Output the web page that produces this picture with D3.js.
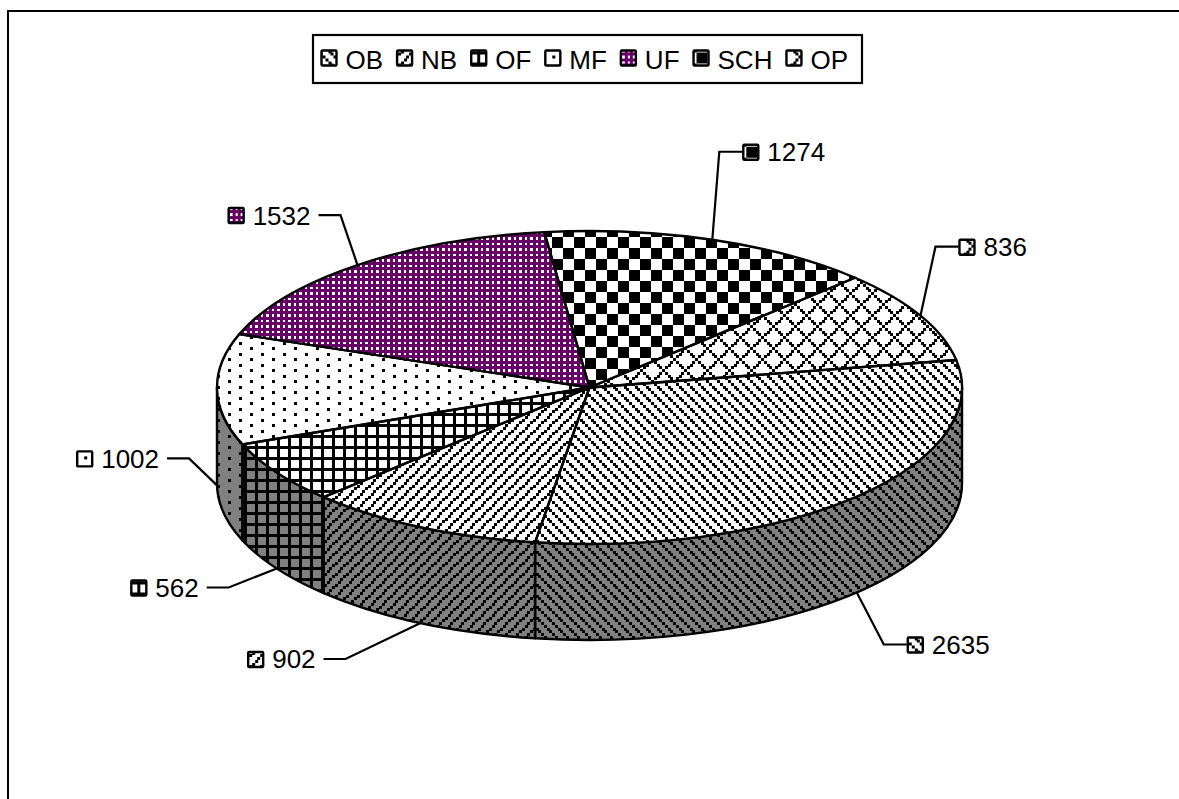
<!DOCTYPE html>
<html>
<head>
<meta charset="utf-8">
<script src="https://cdn.jsdelivr.net/npm/d3@7/dist/d3.min.js"></script>
<style>
  html, body { margin: 0; padding: 0; background: #fff; overflow: hidden; }
  svg { display: block; }
  text { font-family: "Liberation Sans", Arial, sans-serif; font-size: 26px; fill: #000; }
  pattern image { image-rendering: pixelated; }
</style>
</head>
<body>
<svg id="chart" width="1179" height="799"></svg>
<script>
// Shares by category, clockwise from the first slice.
const categories = ["OB", "NB", "OF", "MF", "UF", "SCH", "OP"];
const counts = [2635, 902, 562, 1002, 1532, 1274, 836];

// 8x8 hatch bitmaps, one per category; "#" is an ink cell.
const hatchBitmaps = {
  OB:  ["#...#...", ".#...#..", "..#...#.", "...#...#", "#...#...", ".#...#..", "..#...#.", "...#...#"],
  NB:  ["...#...#", "..#...#.", ".#...#..", "#...#...", "...#...#", "..#...#.", ".#...#..", "#...#..."],
  OF:  ["########", "#...#...", "#...#...", "#...#...", "########", "#...#...", "#...#...", "#...#..."],
  MF:  ["..#.....", "........", "......#.", "........", "..#.....", "........", "......#.", "........"],
  UF:  ["#.#.#.#.", "........", "#.#.#.#.", "........", "#.#.#.#.", "........", "#.#.#.#.", "........"],
  SCH: ["####....", "####....", "####....", "####....", "....####", "....####", "....####", "....####"],
  OP:  ["#.......", ".#.....#", "..#...#.", "...#.#..", "....#...", "...#.#..", "..#...#.", ".#.....#"]
};
// Hatch phase inside the small key squares, per category.
const keyPhase = { OB: [0, 0], NB: [0, 0], OF: [5, -4], MF: [0, 0], UF: [0, 0], SCH: [2, 8], OP: [0, 0] };
const PURPLE = "#660066";
const WALL_GREY = "#808080";

const svg = d3.select("#chart");
const defs = svg.append("defs");

// Each bitmap is painted to a small canvas tile; cells sit on a 2.75 px grid.
const TILE = 22;
const CELL = 3;
const cellEdge = d3.scaleLinear().domain([0, 8]).range([0, TILE]);
function tileUrl(cat) {
  const canvas = document.createElement("canvas");
  canvas.width = canvas.height = TILE;
  const ctx = canvas.getContext("2d");
  // The purple hatch inks white cells on its ground, in slightly finer blocks.
  ctx.fillStyle = cat === "UF" ? "#fff" : "#000";
  hatchBitmaps[cat].forEach((row, j) => {
    row.split("").forEach((c, i) => {
      if (c !== "#") return;
      const x0 = Math.round(cellEdge(i)), y0 = Math.round(cellEdge(j));
      const w = cat === "UF" ? Math.round(cellEdge(i + 1)) - x0 : CELL;
      const h = cat === "UF" ? Math.round(cellEdge(j + 1)) - y0 : CELL;
      ctx.fillRect(x0, y0, w, h);
    });
  });
  return canvas.toDataURL("image/png");
}
categories.forEach(cat => {
  defs.append("pattern")
    .attr("id", "hatch-" + cat)
    .attr("patternUnits", "userSpaceOnUse")
    .attr("width", TILE).attr("height", TILE)
    .attr("patternTransform", "translate(2,17)")
    .append("image")
    .attr("href", tileUrl(cat))
    .attr("width", TILE).attr("height", TILE);
});

// Outer frame: only the top and left rules fall inside the page.
svg.append("path")
  .attr("d", d3.line()([[8, 799], [8, 11], [1179, 11]]))
  .attr("fill", "none").attr("stroke", "#000").attr("stroke-width", 2);

// Tilted pie geometry.
const cx = 589.5, cy = 387.5, rx = 372.5, ry = 156.5, depth = 96;
const rad = d => d * Math.PI / 180;
const at = (t, dy = 0) => [cx + rx * Math.sin(t), cy - ry * Math.cos(t) + dy];

const pie = d3.pie().sort(null)
  .startAngle(rad(79.9)).endAngle(rad(79.9 + 360));
const slices = pie(counts).map((s, i) => ({ ...s, cat: categories[i] }));

const arcTo = (to, large, sweep) =>
  `A${rx} ${ry} 0 ${large} ${sweep} ${to[0]} ${to[1]}`;

function topPath(s) {
  const a = at(s.startAngle), b = at(s.endAngle);
  const large = s.endAngle - s.startAngle > Math.PI ? 1 : 0;
  return `M${cx} ${cy}L${a[0]} ${a[1]}${arcTo(b, large, 1)}Z`;
}
function wallPath(s) {
  const t0 = Math.max(s.startAngle, rad(90)), t1 = Math.min(s.endAngle, rad(270));
  if (t1 <= t0) return null;
  const a = at(t0), b = at(t1), c = at(t1, depth), d = at(t0, depth);
  return `M${a[0]} ${a[1]}${arcTo(b, 0, 1)}L${c[0]} ${c[1]}${arcTo(d, 0, 0)}Z`;
}

const pieG = svg.append("g").attr("stroke-linejoin", "round");

// Side wall: grey ground with the slice's hatch over it.
const walls = slices.filter(s => wallPath(s));
pieG.selectAll("path.wall-ground").data(walls).join("path")
  .attr("class", "wall-ground").attr("d", wallPath).attr("fill", WALL_GREY);
pieG.selectAll("path.wall-hatch").data(walls).join("path")
  .attr("class", "wall-hatch").attr("d", wallPath)
  .attr("fill", d => `url(#hatch-${d.cat})`)
  .attr("stroke", "#000").attr("stroke-width", 2.4);

// Top face.
pieG.selectAll("path.top-ground").data(slices).join("path")
  .attr("class", "top-ground").attr("d", topPath)
  .attr("fill", d => d.cat === "UF" ? PURPLE : "#fff");
pieG.selectAll("path.top-hatch").data(slices).join("path")
  .attr("class", "top-hatch").attr("d", topPath)
  .attr("fill", d => `url(#hatch-${d.cat})`)
  .attr("stroke", "#000").attr("stroke-width", 2.4);

// Small hatched key square; the hatch follows the local origin of its inner group.
function keySquare(g, cat) {
  const [dx, dy] = keyPhase[cat];
  const inner = g.append("g").attr("transform", `translate(${dx},${dy})`);
  const box = sel => sel.attr("x", 1 - dx).attr("y", 1 - dy)
    .attr("width", 15).attr("height", 15).attr("rx", 1);
  inner.append("rect").call(box).attr("fill", cat === "UF" ? PURPLE : "#fff");
  inner.append("rect").call(box).attr("fill", `url(#hatch-${cat})`)
    .attr("stroke", "#000").attr("stroke-width", 2.4);
}

// Legend: a boxed row flowed from the measured text widths.
const legend = svg.append("g");
legend.append("rect").attr("x", 313).attr("y", 35).attr("width", 549).attr("height", 48)
  .attr("fill", "#fff").attr("stroke", "#000").attr("stroke-width", 2.2);
let flowX = 320.5;
categories.forEach(cat => {
  const g = legend.append("g").attr("transform", `translate(${flowX},49.5)`);
  keySquare(g, cat);
  const t = legend.append("text").attr("x", flowX + 25).attr("y", 68.5).text(cat);
  flowX += 25 + t.node().getComputedTextLength() + 13;
});

// Leader elbows relative to each slice's mid-arc anchor.
const elbowOffsets = [[27, 52], [-75, 36], [-48, 19], [-28, -27], [-17, -50], [7, -88], [15, -69]];
const labels = svg.append("g");
slices.forEach((s, i) => {
  const mid = (s.startAngle + s.endAngle) / 2;
  const normalised = mid % (2 * Math.PI);
  const onWall = normalised > rad(90) && normalised < rad(270) || Math.abs(normalised - rad(270)) < rad(5);
  const anchor = at(mid, onWall ? depth : 0);
  const elbow = [anchor[0] + elbowOffsets[i][0], anchor[1] + elbowOffsets[i][1]];
  const rightSide = elbow[0] > cx + 100;
  const tail = [elbow[0] + (rightSide ? 23 : -22), elbow[1]];
  labels.append("path")
    .attr("d", d3.line()([anchor, elbow, tail]))
    .attr("fill", "none").attr("stroke", "#000").attr("stroke-width", 2.2);
  const t = labels.append("text").attr("y", elbow[1] + 9.5).text(d3.format("d")(s.value));
  const w = t.node().getComputedTextLength();
  const textX = rightSide ? tail[0] + 25 : tail[0] - 8 - w;
  t.attr("x", textX);
  const g = labels.append("g").attr("transform", `translate(${textX - 25},${elbow[1] - 8})`);
  keySquare(g, s.cat);
});
</script>
</body>
</html>
